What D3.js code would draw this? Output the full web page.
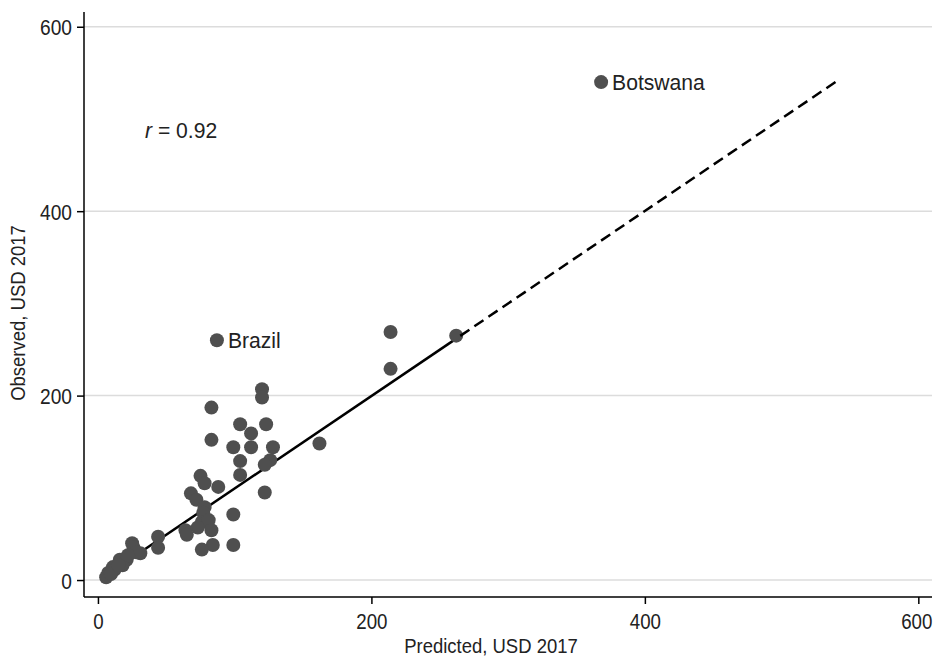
<!DOCTYPE html>
<html>
<head>
<meta charset="utf-8">
<script src="https://cdn.jsdelivr.net/npm/d3@7"></script>
<style>
  body { margin: 0; background: #fff; }
  svg { font-family: "Liberation Sans", Arial, sans-serif; }
</style>
</head>
<body>
<svg id="chart" width="933" height="656"></svg>
<script>
// data (predicted, observed)
const predicted = [368, 87, 214, 214, 262, 162, 120, 120, 83, 104, 123, 112, 83, 99, 112, 128,
  104, 126, 122, 104, 75, 78, 88, 68, 122, 72, 78, 99, 77, 76, 81, 73, 83, 64, 65, 84, 99, 76,
  44, 44, 25, 26, 31, 16, 21, 11, 7.5, 6, 12, 18, 28, 9.5, 15, 22];
const observed = [540, 260, 269, 229, 265, 148, 207, 198, 187, 169, 169, 159, 152, 144, 144, 144,
  129, 130, 125, 114, 113, 105, 101, 94, 95, 87, 79, 71, 73, 63, 65, 57, 54, 54, 49, 38, 38, 33,
  47, 35, 40, 35, 29, 22, 22, 14, 7.6, 3, 11, 16, 30, 6.5, 16, 27];
const labelled = { 0: "Botswana", 1: "Brazil" };
const xTicks = [0, 200, 400, 600];
const yTicks = [0, 200, 400, 600];
const fitSolid = [7, 265];
const fitDashed = [265, 540];
const fitSlope = 1.003, fitIntercept = -1;

const svg = d3.select("#chart");
const x = d3.scaleLinear().domain([-10.2, 610]).range([84, 932]);
const y = d3.scaleLinear().domain([-18.4, 616]).range([597, 12]);

// narrow text helper (the reference type is a bit condensed)
function label(g, tx, ty, str, size, sx, anchor) {
  return g.append("text")
    .attr("transform", `translate(${tx},${ty}) scale(${sx},1)`)
    .attr("text-anchor", anchor || "start")
    .attr("font-size", size).attr("fill", "#222").text(str);
}

// gridlines
svg.append("g").selectAll("line").data(yTicks).enter().append("line")
  .attr("x1", 84).attr("x2", 932)
  .attr("y1", d => y(d)).attr("y2", d => y(d))
  .attr("stroke", "#dcdcdc").attr("stroke-width", 1.5);

// axes
const yAxis = svg.append("g").attr("transform", "translate(84,0)")
  .call(d3.axisLeft(y).tickValues(yTicks).tickSize(7));
const xAxis = svg.append("g").attr("transform", "translate(0,597)")
  .call(d3.axisBottom(x).tickValues(xTicks).tickSize(7));
[yAxis, xAxis].forEach(a => {
  a.select(".domain").attr("stroke", "#000").attr("stroke-width", 1.5);
  a.selectAll(".tick line").attr("stroke", "#000").attr("stroke-width", 1.5);
  a.selectAll(".tick text").remove();
});
yAxis.select(".domain").attr("d", "M0,12V597");
xAxis.select(".domain").attr("d", "M84,0H932");
yAxis.selectAll(".tick").each(function (d) {
  label(d3.select(this), -12, 8, d, 22, 0.87, "end");
});
xAxis.selectAll(".tick").each(function (d, i, nodes) {
  // keep the last label inside the page edge
  const shift = i === nodes.length - 1 ? -2 : 0;
  label(d3.select(this), shift, 32, d, 22, 0.85, "middle");
});

// fitted line
const fit = v => fitSlope * v + fitIntercept;
svg.append("line")
  .attr("x1", x(fitSolid[0])).attr("y1", y(fit(fitSolid[0])))
  .attr("x2", x(fitSolid[1])).attr("y2", y(fit(fitSolid[1])))
  .attr("stroke", "#000").attr("stroke-width", 2.5);

// points
svg.append("g").selectAll("circle").data(predicted).enter().append("circle")
  .attr("cx", d => x(d)).attr("cy", (d, i) => y(observed[i]))
  .attr("r", 7).attr("fill", "#4f4f4f");

svg.append("line")
  .attr("x1", x(fitDashed[0])).attr("y1", y(fit(fitDashed[0])))
  .attr("x2", x(fitDashed[1])).attr("y2", y(fit(fitDashed[1])))
  .attr("stroke", "#000").attr("stroke-width", 2.5)
  .attr("stroke-dasharray", "11,6");

// point labels
Object.entries(labelled).forEach(([i, name]) => {
  label(svg, x(predicted[i]) + 11, y(observed[i]) + 8, name, 22, 0.96);
});

// r annotation
const rt = label(svg, 145, 138, "", 22, 0.96);
rt.append("tspan").attr("font-style", "italic").text("r");
rt.append("tspan").text(" = 0.92");

// axis titles
label(svg, 491, 653, "Predicted, USD 2017", 21, 0.88, "middle");
svg.append("text").attr("transform", "translate(25,313) rotate(-90) scale(0.88,1)")
  .attr("text-anchor", "middle").attr("font-size", 21).attr("fill", "#222")
  .text("Observed, USD 2017");
</script>
</body>
</html>
